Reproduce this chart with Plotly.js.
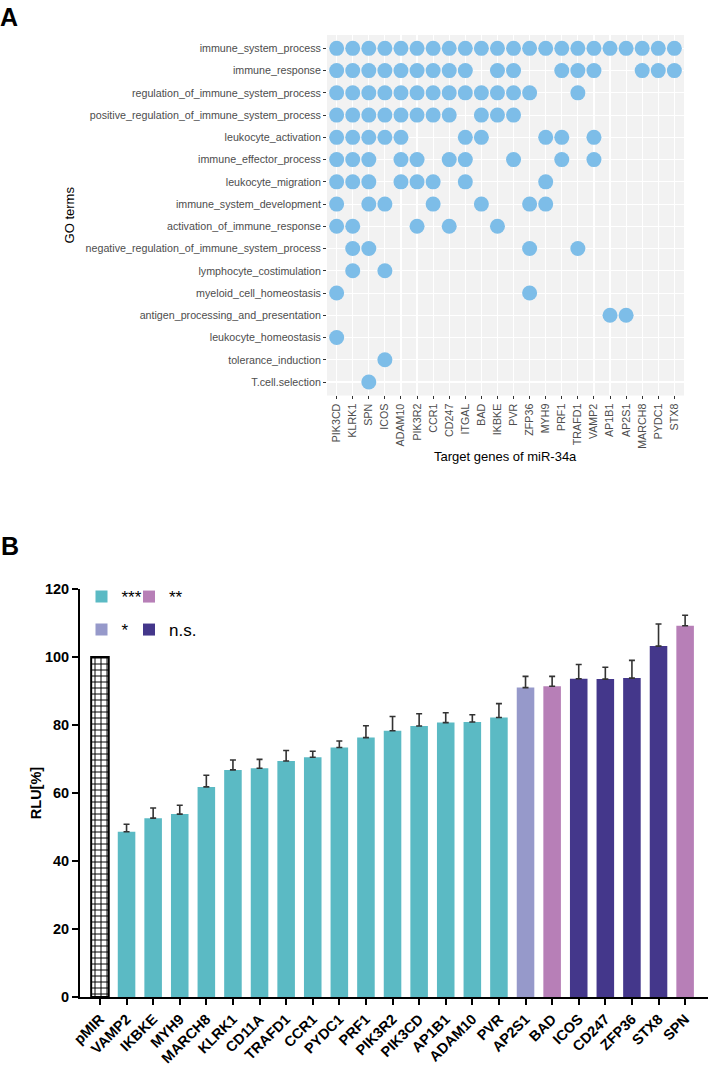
<!DOCTYPE html>
<html>
<head>
<meta charset="utf-8">
<script src="https://cdn.plot.ly/plotly-3.0.1.min.js"></script>
<style>html,body{margin:0;padding:0;background:#fff;}#chart{width:709px;height:1070px;}</style>
</head>
<body>
<div id="chart"></div>
<script>
// ---------- Panel A data ----------
const goTerms = [
  "immune_system_process",
  "immune_response",
  "regulation_of_immune_system_process",
  "positive_regulation_of_immune_system_process",
  "leukocyte_activation",
  "immune_effector_process",
  "leukocyte_migration",
  "immune_system_development",
  "activation_of_immune_response",
  "negative_regulation_of_immune_system_process",
  "lymphocyte_costimulation",
  "myeloid_cell_homeostasis",
  "antigen_processing_and_presentation",
  "leukocyte_homeostasis",
  "tolerance_induction",
  "T.cell.selection"
];
const targetGenes = ["PIK3CD","KLRK1","SPN","ICOS","ADAM10","PIK3R2","CCR1","CD247","ITGAL","BAD","IKBKE","PVR","ZFP36","MYH9","PRF1","TRAFD1","VAMP2","AP1B1","AP2S1","MARCH8","PYDC1","STX8"];
// genes annotated to each GO term (same order as goTerms)
const termGenes = [
  ["PIK3CD","KLRK1","SPN","ICOS","ADAM10","PIK3R2","CCR1","CD247","ITGAL","BAD","IKBKE","PVR","ZFP36","MYH9","PRF1","TRAFD1","VAMP2","AP1B1","AP2S1","MARCH8","PYDC1","STX8"],
  ["PIK3CD","KLRK1","SPN","ICOS","ADAM10","PIK3R2","CCR1","CD247","ITGAL","IKBKE","PVR","PRF1","TRAFD1","VAMP2","MARCH8","PYDC1","STX8"],
  ["PIK3CD","KLRK1","SPN","ICOS","ADAM10","PIK3R2","CCR1","CD247","ITGAL","BAD","IKBKE","PVR","ZFP36","TRAFD1"],
  ["PIK3CD","KLRK1","SPN","ICOS","ADAM10","PIK3R2","CCR1","CD247","BAD","IKBKE","PVR"],
  ["PIK3CD","KLRK1","SPN","ICOS","ADAM10","ITGAL","BAD","MYH9","PRF1","VAMP2"],
  ["PIK3CD","KLRK1","SPN","ADAM10","PIK3R2","CD247","ITGAL","PVR","PRF1","VAMP2"],
  ["PIK3CD","KLRK1","SPN","ADAM10","PIK3R2","CCR1","ITGAL","MYH9"],
  ["PIK3CD","SPN","ICOS","CCR1","BAD","ZFP36","MYH9"],
  ["PIK3CD","KLRK1","PIK3R2","CD247","IKBKE"],
  ["KLRK1","SPN","ZFP36","TRAFD1"],
  ["KLRK1","ICOS"],
  ["PIK3CD","ZFP36"],
  ["AP1B1","AP2S1"],
  ["PIK3CD"],
  ["ICOS"],
  ["SPN"]
];

// ---------- Panel B data ----------
const barGenes = ["pMIR","VAMP2","IKBKE","MYH9","MARCH8","KLRK1","CD11A","TRAFD1","CCR1","PYDC1","PRF1","PIK3R2","PIK3CD","AP1B1","ADAM10","PVR","AP2S1","BAD","ICOS","CD247","ZFP36","STX8","SPN"];
const rluValues = [100,48.6,52.6,53.8,61.8,66.8,67.3,69.4,70.5,73.4,76.3,78.3,79.7,80.7,80.9,82.2,91.0,91.4,93.6,93.5,93.8,103.2,109.2];
const rluErrors = [0,2.2,3.0,2.6,3.4,2.9,2.6,3.1,1.8,1.9,3.5,4.2,3.6,2.9,2.1,4.1,3.3,2.9,4.2,3.5,5.2,6.5,3.1];
const significance = ["ctrl","***","***","***","***","***","***","***","***","***","***","***","***","***","***","***","*","**","n.s.","n.s.","n.s.","n.s.","**"];
const sigLevels = ["***","**","*","n.s."];
const sigColors = {"***":"#5bbac4","**":"#b77fb7","*":"#9699ca","n.s.":"#44378b"};
const sigLegend = {"***":"legend","**":"legend2","*":"legend3","n.s.":"legend4"};

const W = 709, H = 1070;
const fx = p => p / W;
const fy = p => 1 - p / H;
const FONT = "Liberation Sans, Arial, Helvetica, sans-serif";

const traces = [];
// Panel A dots
const dotX = [], dotY = [];
termGenes.forEach((genes, i) => genes.forEach(g => { dotX.push(g); dotY.push(goTerms[i]); }));
traces.push({
  type: "scatter", mode: "markers", x: dotX, y: dotY, xaxis: "x", yaxis: "y",
  marker: {size: 15, color: "#7dbde8"}, showlegend: false, hoverinfo: "x+y"
});

// Panel B control bar
traces.push({
  type: "bar", x: [barGenes[0]], y: [rluValues[0]], xaxis: "x2", yaxis: "y2",
  width: 0.66, showlegend: false,
  marker: {color: "#ffffff", line: {color: "#000", width: 2},
           pattern: {shape: "+", fgcolor: "#000", bgcolor: "#fff", size: 6, solidity: 0.3, fillmode: "replace"}}
});
// Panel B significance groups
sigLevels.forEach(s => {
  const xs = [], ys = [], es = [], em = [];
  barGenes.forEach((g, i) => { if (significance[i] === s) { xs.push(g); ys.push(rluValues[i]); es.push(rluErrors[i]); em.push(0); } });
  traces.push({
    type: "bar", name: s, x: xs, y: ys, xaxis: "x2", yaxis: "y2", width: 0.66,
    legend: sigLegend[s],
    marker: {color: sigColors[s], line: {width: 0}},
    error_y: {type: "data", array: es, arrayminus: em, symmetric: false, color: "#333", thickness: 1.6, width: 3}
  });
});

const legendBase = {
  orientation: "v", xanchor: "left", yanchor: "top",
  bgcolor: "rgba(0,0,0,0)", font: {size: 17, family: FONT}, itemwidth: 30
};

const layout = {
  width: W, height: H,
  margin: {l: 0, r: 0, t: 0, b: 0},
  paper_bgcolor: "#fff", plot_bgcolor: "rgba(0,0,0,0)",
  font: {family: FONT, color: "#000"},
  barmode: "overlay",
  xaxis: {
    domain: [fx(327), fx(684)], anchor: "y", type: "category",
    categoryorder: "array", categoryarray: targetGenes, range: [-0.6, 21.6],
    tickangle: -90, ticks: "outside", ticklen: 3, tickcolor: "#333", tickwidth: 1,
    tickfont: {size: 10.7, color: "#4d4d4d", family: FONT},
    showgrid: true, gridcolor: "#fff", gridwidth: 1.1, zeroline: false, showline: false,
    fixedrange: true
  },
  yaxis: {
    domain: [fy(395.4), fy(35)], anchor: "x", type: "category",
    categoryorder: "array", categoryarray: goTerms, range: [15.6, -0.6],
    ticks: "outside", ticklen: 3, tickcolor: "#333", tickwidth: 1,
    tickfont: {size: 10.7, color: "#4d4d4d", family: FONT},
    showgrid: true, gridcolor: "#fff", gridwidth: 1.1, zeroline: false, showline: false,
    title: {text: "GO terms", font: {size: 13, color: "#000"}, standoff: 8},
    fixedrange: true
  },
  xaxis2: {
    domain: [fx(80), fx(708)], anchor: "y2", type: "category",
    categoryorder: "array", categoryarray: barGenes, range: [-0.75, 22.86],
    tickangle: -45, ticks: "outside", ticklen: 6, tickcolor: "#000", tickwidth: 2,
    tickfont: {size: 14.5, color: "#000", family: FONT, weight: "bold"},
    showline: true, linecolor: "#000", linewidth: 2, showgrid: false, zeroline: false,
    fixedrange: true
  },
  yaxis2: {
    domain: [fy(997), fy(589)], anchor: "x2", range: [0, 120], dtick: 20, tick0: 0,
    ticks: "outside", ticklen: 6, tickcolor: "#000", tickwidth: 2,
    tickfont: {size: 14.5, color: "#000", family: FONT, weight: "bold"},
    showline: true, linecolor: "#000", linewidth: 2, showgrid: false, zeroline: false,
    title: {text: "RLU[%]", font: {size: 14.5, color: "#000", weight: "bold"}, standoff: 0},
    fixedrange: true
  },
  legend:  Object.assign({}, legendBase, {x: fx(81.5), y: fy(579)}),
  legend2: Object.assign({}, legendBase, {x: fx(129),  y: fy(579)}),
  legend3: Object.assign({}, legendBase, {x: fx(81.5), y: fy(612)}),
  legend4: Object.assign({}, legendBase, {x: fx(129),  y: fy(612)}),
  shapes: [
    {type: "rect", xref: "x domain", yref: "y domain", x0: 0, x1: 1, y0: 0, y1: 1,
     fillcolor: "#f2f2f2", line: {width: 0}, layer: "below"}
  ],
  annotations: [
    {text: "Target genes of miR-34a", xref: "paper", yref: "paper", x: fx(505), y: fy(456),
     xanchor: "center", yanchor: "middle", showarrow: false, font: {size: 13, family: FONT, color: "#000"}},
    {text: "<b>A</b>", xref: "paper", yref: "paper", x: fx(-2), y: fy(1), xanchor: "left", yanchor: "top",
     showarrow: false, font: {size: 25, family: FONT, color: "#000"}},
    {text: "<b>B</b>", xref: "paper", yref: "paper", x: fx(-1), y: fy(530), xanchor: "left", yanchor: "top",
     showarrow: false, font: {size: 25, family: FONT, color: "#000"}}
  ]
};

Plotly.newPlot("chart", traces, layout, {displayModeBar: false, staticPlot: true});
</script>
</body>
</html>
